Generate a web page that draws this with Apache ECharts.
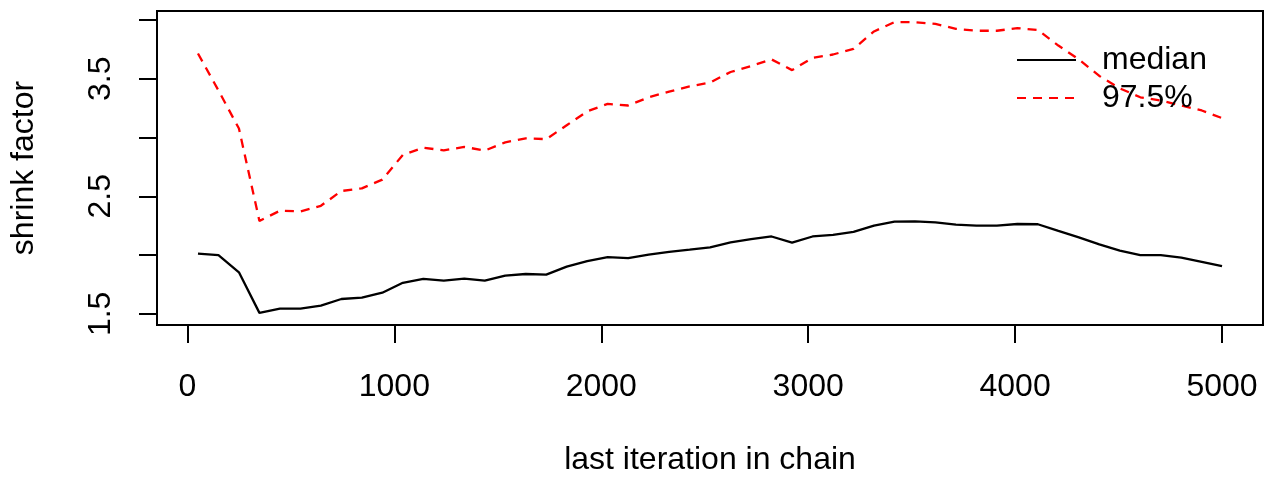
<!DOCTYPE html>
<html>
<head>
<meta charset="utf-8">
<script src="https://cdn.jsdelivr.net/npm/echarts@6/dist/echarts.min.js"></script>
<style>
html,body{margin:0;padding:0;background:#fff;}
#chart{width:1264px;height:481px;}
</style>
</head>
<body>
<div id="chart"></div>
<script>
// last iteration in chain (x values)
var iterations = [51,150,249,348,447,546,645,744,843,942,1041,1140,1239,1338,1437,1536,1635,1734,1833,1932,
  2031,2130,2229,2328,2427,2526,2625,2724,2823,2922,3021,3120,3219,3318,3417,3516,3615,3714,3813,3912,
  4011,4110,4209,4308,4407,4506,4605,4704,4803,4902,5000];
// median shrink factor
var medianVals = [2.012,1.999,1.853,1.508,1.545,1.545,1.570,1.626,1.638,1.680,
  1.764,1.797,1.783,1.800,1.783,1.825,1.839,1.833,1.901,1.948,
  1.982,1.974,2.004,2.027,2.046,2.066,2.108,2.136,2.158,2.105,
  2.158,2.172,2.197,2.251,2.284,2.287,2.278,2.259,2.251,2.251,
  2.264,2.262,2.205,2.150,2.091,2.038,1.999,1.999,1.979,1.943,1.906];
// 97.5% shrink factor
var upperVals = [3.714,3.400,3.076,2.290,2.377,2.371,2.419,2.545,2.567,2.642,
  2.852,2.914,2.890,2.920,2.889,2.959,2.992,2.986,3.104,3.222,
  3.286,3.272,3.342,3.390,3.435,3.468,3.557,3.608,3.664,3.573,
  3.678,3.706,3.754,3.902,3.981,3.981,3.966,3.924,3.908,3.908,
  3.930,3.915,3.782,3.664,3.524,3.418,3.342,3.314,3.272,3.230,3.165];
var seriesNames = ['median', '97.5%'];
var xTickValues = [0,1000,2000,3000,4000,5000];
var yTickValues = [1.5,2.0,2.5,3.0,3.5,4.0];
var yLabelValues = [1.5,2.5,3.5];
var xTitle = 'last iteration in chain';
var yTitle = 'shrink factor';

function pairs(xs, ys){ return xs.map(function(x,i){ return [x, ys[i]]; }); }

var FONT = '"Liberation Sans", Arial, Helvetica, sans-serif';
var chart = echarts.init(document.getElementById('chart'), null, {renderer:'canvas'});
chart.setOption({
  animation: false,
  backgroundColor: '#ffffff',
  textStyle: {fontFamily: FONT},
  grid: {left:157, right:1, top:11, bottom:152, show:true, borderColor:'#000', borderWidth:2, backgroundColor:'transparent'},
  legend: {
    data: seriesNames, orient:'vertical', left:1016, top:44, padding:0,
    itemWidth:59, itemHeight:14, itemGap:6,
    itemStyle:{opacity:0},
    textStyle:{fontSize:32, lineHeight:32, color:'#000', fontFamily:FONT, padding:[0,0,0,21]}
  },
  xAxis: {
    type:'value', min:-147, max:5198,
    splitLine:{show:false}, axisLine:{show:false, onZero:false},
    axisTick:{show:true, length:18, customValues:xTickValues, lineStyle:{color:'#000', width:2}},
    axisLabel:{customValues:xTickValues, margin:46, fontSize:32, color:'#000', fontFamily:FONT,
      formatter:function(v){ return String(v); }},
    name:xTitle, nameLocation:'middle', nameGap:119,
    nameTextStyle:{fontSize:32, color:'#000', fontFamily:FONT}
  },
  yAxis: {
    type:'value', min:1.405, max:4.076,
    splitLine:{show:false}, axisLine:{show:false, onZero:false},
    axisTick:{show:true, length:18, customValues:yTickValues, lineStyle:{color:'#000', width:2}},
    axisLabel:{customValues:yLabelValues, rotate:90, margin:40, fontSize:32, color:'#000', fontFamily:FONT,
      formatter:function(v){ return v.toFixed(1); }},
    name:yTitle, nameLocation:'middle', nameGap:117, nameRotate:90,
    nameTextStyle:{fontSize:32, color:'#000', fontFamily:FONT}
  },
  series: [
    {name:seriesNames[0], type:'line', data:pairs(iterations, medianVals), symbol:'none',
     lineStyle:{color:'#000', width:2.3}, itemStyle:{color:'#000'}},
    {name:seriesNames[1], type:'line', data:pairs(iterations, upperVals), symbol:'none',
     lineStyle:{color:'#ff0000', width:2.3, type:[9,7]}, itemStyle:{color:'#ff0000'}}
  ]
});
</script>
</body>
</html>
